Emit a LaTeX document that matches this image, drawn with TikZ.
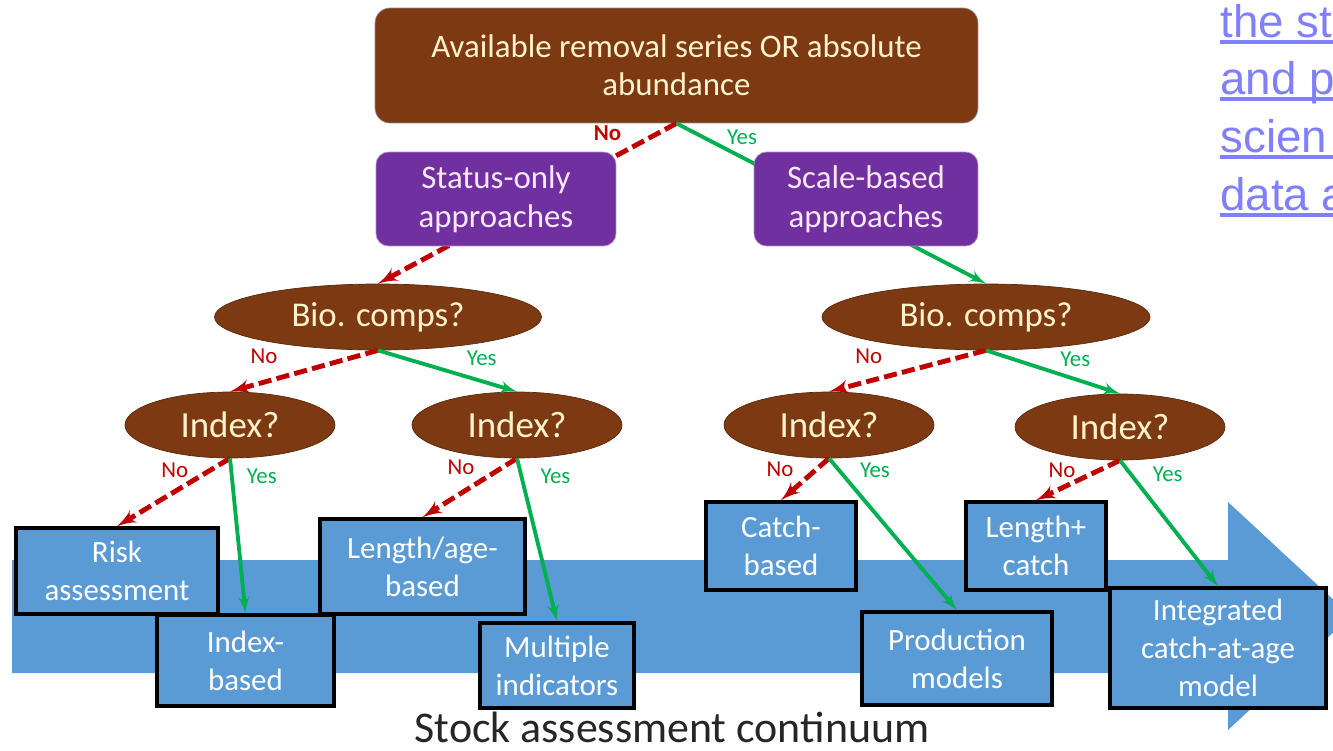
\documentclass[tikz,border=0pt]{standalone}
\usepackage{fontspec}
\setmainfont{Carlito}
\newfontfamily\linkfont{Liberation Sans}
\usetikzlibrary{arrows, shapes.geometric}
\definecolor{brn}{RGB}{125,58,18}
\definecolor{cream}{RGB}{255,242,204}
\definecolor{prp}{RGB}{112,48,160}
\definecolor{pinkwht}{RGB}{250,232,250}
\definecolor{blu}{RGB}{91,155,213}
\definecolor{nored}{RGB}{192,0,0}
\definecolor{yesgr}{RGB}{0,176,80}
\definecolor{lnk}{RGB}{128,128,255}
\tikzstyle{hd}=[rectangle, rounded corners=0.3cm, draw=black!45, fill=brn, text=cream, align=center, font=\fontsize{18.7}{21.5}\selectfont]
\tikzstyle{ap}=[rectangle, rounded corners=0.25cm, draw=prp!55!white, fill=prp, text=pinkwht, align=center, font=\fontsize{18.7}{22}\selectfont]
\tikzstyle{q}=[ellipse, draw=brn!70!black, fill=brn, text=cream, inner sep=0pt, minimum height=1.32cm, font=\fontsize{19.8}{22}\selectfont]
\tikzstyle{qi}=[q, font=\fontsize{21}{24}\selectfont, minimum width=4.2cm]
\tikzstyle{res}=[rectangle, draw=black, line width=2pt, fill=blu, text=white, align=center, font=\fontsize{17.6}{21.5}\selectfont]
\tikzstyle{nol}=[->, draw=nored, dash pattern=on 7.5pt off 3pt, line width=2.8pt]
\tikzstyle{yesl}=[->, draw=yesgr, line width=2.2pt]
\tikzstyle{nt}=[text=nored, inner sep=0pt, font=\fontsize{13}{15}\selectfont]
\tikzstyle{yt}=[text=yesgr, inner sep=0pt, font=\fontsize{13}{15}\selectfont]
\tikzstyle{lk}=[text=lnk, inner sep=0pt, anchor=base west, font=\linkfont\fontsize{26}{30}\selectfont]
\tikzstyle{ul}=[draw=lnk, line width=2.2pt]

\begin{document}
\begin{tikzpicture}[x=0.02cm, y=-0.02cm, >=latex']
  \useasboundingbox (0,0) rectangle (1333,751);
  \clip (0,0) rectangle (1333,751);
  % continuum arrow
  \fill[blu] (12,560) -- (1228,560) -- (1228,502) -- (1351,616) -- (1228,730)
    -- (1228,673) -- (12,673) -- cycle;

  \node [hd, minimum width=12.06cm, minimum height=2.3cm] (top) at (676.5,65.5)
    {Available removal series OR absolute\\abundance};
  \node [q, minimum width=6.54cm] (b1) at (378,317) {Bio. comps?};
  \node [q, minimum width=6.56cm] (b2) at (986,317) {Bio. comps?};
  \node [qi] (i1) at (230,425) {Index?};
  \node [qi] (i2) at (517,425) {Index?};
  \node [qi] (i3) at (829,425) {Index?};
  \node [qi] (i4) at (1120,427) {Index?};

  \draw[nol] (top.south) -- node[nt, pos=.231, yshift=.54cm] {\bfseries No} (b1.north);
  \draw[yesl] (top.south) -- node[yt, pos=.212, yshift=.4cm] {Yes} (b2.north);

  \node [ap, minimum width=4.8cm, minimum height=1.88cm] (st) at (496,199)
    {Status-only\\approaches};
  \node [ap, minimum width=4.48cm, minimum height=1.88cm] (sc) at (866,199)
    {Scale-based\\approaches};

  % outcomes
  \node [res, minimum width=4.04cm, minimum height=1.72cm] (ra) at (117,571) {Risk\\assessment};
  \node [res, minimum width=3.54cm, minimum height=1.82cm] (ib) at (245.5,660.5) {Index-\\based};
  \node [res, minimum width=4.1cm, minimum height=1.9cm] (la) at (422.5,566.5) {Length/age-\\based};
  \node [res, minimum width=3.08cm, minimum height=1.7cm] (mi) at (557,665.5) {Multiple\\indicators};
  \node [res, minimum width=3cm, minimum height=1.76cm] (cb) at (781,546) {Catch-\\based};
  \node [res, minimum width=3.8cm, minimum height=1.86cm] (pm) at (957,658.5) {Production\\models};
  \node [res, minimum width=2.8cm, minimum height=1.76cm] (lc) at (1036,546) {Length+\\catch};
  \node [res, minimum width=4.32cm, minimum height=2.4cm] (ia) at (1218,648) {Integrated\\catch-at-age\\model};

  \draw[nol] (b1.south) -- node[nt, pos=.77, yshift=.52cm] {No} (i1.north);
  \draw[yesl] (b1.south) -- node[yt, pos=.746, yshift=.46cm] {Yes} (i2.north);
  \draw[nol] (b2.south) -- node[nt, pos=.747, yshift=.5cm] {No} (i3.north);
  \draw[yesl] (b2.south) -- node[yt, pos=.667, yshift=.4cm] {Yes} (i4.north);

  \draw[nol] (i1.south) -- node[nt, pos=.17, xshift=-.72cm] {No} (ra.north);
  \draw[yesl] (i1.south) -- node[yt, pos=.115, xshift=.6cm] {Yes} (ib.north);
  \draw[nol] (i2.south) -- node[nt, pos=.148, xshift=-.84cm] {No} (la.north);
  \draw[yesl] (i2.south) -- node[yt, pos=.11, xshift=.68cm] {Yes} (mi.north);
  \draw[nol] (i3.south) -- node[nt, pos=.27, xshift=-.72cm] {No} (cb.north);
  \draw[yesl] (i3.south) -- node[yt, pos=.078, xshift=.72cm] {Yes} (pm.north);
  \draw[nol] (i4.south) -- node[nt, pos=.238, xshift=-.76cm] {No} (lc.north);
  \draw[yesl] (i4.south) -- node[yt, pos=.109, xshift=.74cm] {Yes} (ia.north);

  \node [anchor=base, text=black!85, font=\fontsize{25}{30}\selectfont] (sac) at (672,742)
    {Stock assessment continuum};

  % link text at the edge
  \node [lk] (l1) at (1220,37) {the st};
  \node [lk] (l2) at (1220,94) {and p};
  \node [lk] (l3) at (1220,152) {scien};
  \node [lk] (l4) at (1220,210) {data a};
  \draw[ul] ([yshift=-.1cm]l1.base west) -- ++(130,0);
  \draw[ul] ([yshift=-.1cm]l2.base west) -- ++(130,0);
  \draw[ul] ([yshift=-.1cm]l3.base west) -- ++(130,0);
  \draw[ul] ([yshift=-.1cm]l4.base west) -- ++(130,0);
\end{tikzpicture}
\end{document}
